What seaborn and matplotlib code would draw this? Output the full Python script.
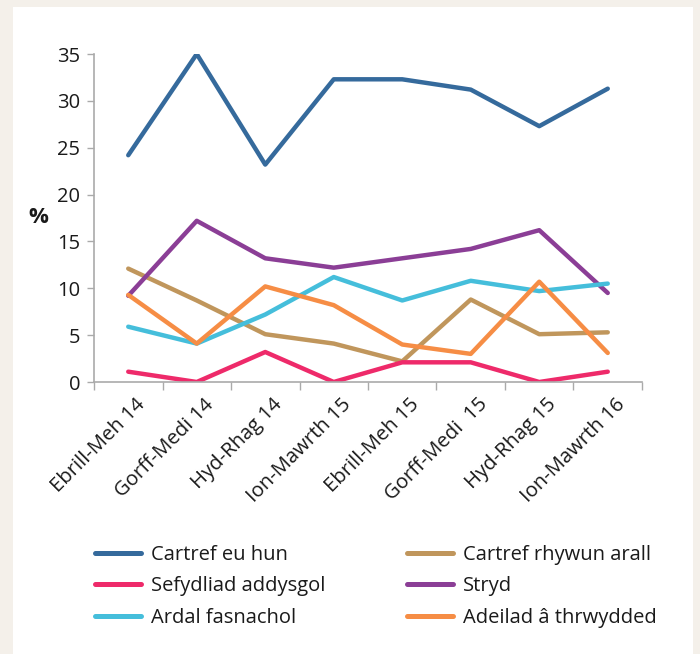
import matplotlib
matplotlib.use("Agg")
import matplotlib.pyplot as plt
import matplotlib.transforms as mtransforms
import seaborn as sns
import pandas as pd
from matplotlib.patches import Rectangle
from matplotlib.lines import Line2D
from matplotlib.ticker import FixedLocator, NullFormatter

categories = ["Ebrill-Meh 14", "Gorff-Medi 14", "Hyd-Rhag 14", "Ion-Mawrth 15",
              "Ebrill-Meh 15", "Gorff-Medi  15", "Hyd-Rhag 15", "Ion-Mawrth 16"]
cartref_eu_hun = [24.2, 35.0, 23.2, 32.3, 32.3, 31.2, 27.3, 31.3]
sefydliad_addysgol = [1.1, 0.0, 3.2, 0.0, 2.1, 2.1, 0.0, 1.1]
ardal_fasnachol = [5.9, 4.1, 7.2, 11.2, 8.7, 10.8, 9.7, 10.5]
cartref_rhywun_arall = [12.1, 8.7, 5.1, 4.1, 2.2, 8.8, 5.1, 5.3]
stryd = [9.2, 17.2, 13.2, 12.2, 13.2, 14.2, 16.2, 9.5]
adeilad = [9.3, 4.1, 10.2, 8.2, 4.0, 3.0, 10.7, 3.1]

series_names = ["Cartref eu hun", "Cartref rhywun arall", "Sefydliad addysgol",
                "Stryd", "Ardal fasnachol", "Adeilad â thrwydded"]
series_values = [cartref_eu_hun, cartref_rhywun_arall, sefydliad_addysgol,
                 stryd, ardal_fasnachol, adeilad]
colors = ["#356a9c", "#c0965c", "#ee2a6a", "#8b3e96", "#45bedb", "#f68d45"]

rows = []
for name, vals in zip(series_names, series_values):
    for c, v in zip(categories, vals):
        rows.append({"cat": c, "val": v, "series": name})
df = pd.DataFrame(rows)

sns.set_style("white")
plt.rcParams['font.family'] = ['Open Sans', 'DejaVu Sans']

fig = plt.figure(figsize=(7.0, 6.54), dpi=100)
fig.patch.set_facecolor("#f4f0ea")
fig.patches.append(Rectangle((13/700, 0), 680/700, 1 - 7/654, transform=fig.transFigure,
                             facecolor="white", edgecolor="none", zorder=-10))

ax = fig.add_axes([94/700, 1 - 382/654, 548/700, 328/654])
ax.set_zorder(1)
ax.set_facecolor("none")
sns.lineplot(data=df, x="cat", y="val", hue="series", palette=dict(zip(series_names, colors)),
             hue_order=series_names, sort=False, linewidth=3.2, ax=ax, legend=False)

ax.set_xlim(-0.5, 7.5)
ax.set_ylim(0, 35)
ax.set_yticks([0, 5, 10, 15, 20, 25, 30, 35])
ax.set_xticks(range(len(categories)))
ax.xaxis.set_minor_locator(FixedLocator([i - 0.5 for i in range(len(categories) + 1)]))
ax.xaxis.set_minor_formatter(NullFormatter())
ax.tick_params(axis="x", which="major", length=0, pad=9)
ax.tick_params(axis="x", which="minor", length=6, color="#aaaaaa", width=1, direction="out", bottom=True)
ax.tick_params(axis="y", length=5, color="#aaaaaa", width=1, labelsize=14.5, labelcolor="#1a1a1a",
               left=True, direction="out", pad=5)
ax.set_xticklabels(categories, rotation=45, ha="right", va="top", rotation_mode="anchor",
                   fontsize=14.6, color="#1a1a1a")
offset = mtransforms.ScaledTranslation(7/100, 0, fig.dpi_scale_trans)
for lab in ax.get_xticklabels():
    lab.set_transform(lab.get_transform() + offset)
for s in ["top", "right"]:
    ax.spines[s].set_visible(False)
for s in ["left", "bottom"]:
    ax.spines[s].set_color("#aaaaaa")
    ax.spines[s].set_linewidth(1.2)
ax.set_xlabel("")
ax.set_ylabel("")
fig.text(38.5/700, 1 - 218/654, "%", fontsize=16, fontweight="bold", ha="center", va="center",
         color="#1a1a1a")

legend_kw = dict(loc="upper left", frameon=False, fontsize=14.5, handlelength=2.3,
                 handletextpad=0.5, labelspacing=0.57, borderpad=0, borderaxespad=0,
                 labelcolor="#1a1a1a")
col1 = [0, 2, 4]
col2 = [1, 3, 5]
leg1 = fig.legend([Line2D([0], [0], color=colors[i], lw=3.6, solid_capstyle="round") for i in col1],
                  [series_names[i] for i in col1], bbox_to_anchor=(95/700, 1 - 545/654), **legend_kw)
leg2 = fig.legend([Line2D([0], [0], color=colors[i], lw=3.6, solid_capstyle="round") for i in col2],
                  [series_names[i] for i in col2], bbox_to_anchor=(407/700, 1 - 545/654), **legend_kw)

fig.savefig("out.png", dpi=100, facecolor=fig.get_facecolor())
